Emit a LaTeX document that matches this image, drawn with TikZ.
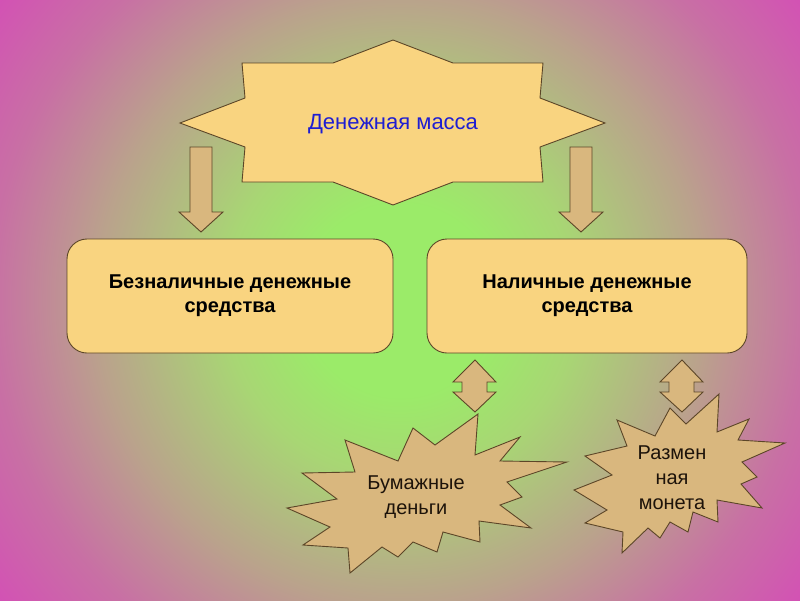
\documentclass[tikz,border=0pt]{standalone}
\usepackage{fontspec}
\setmainfont{Liberation Sans}
\definecolor{glowgreen}{RGB}{155,235,105}
\definecolor{leafgreen}{RGB}{168,214,116}
\definecolor{midtan}{RGB}{186,162,140}
\definecolor{rosepink}{RGB}{200,112,164}
\definecolor{edgemagenta}{RGB}{212,78,182}
\definecolor{starfill}{RGB}{249,212,128}
\definecolor{tanfill}{RGB}{217,183,126}
\definecolor{rimbrown}{RGB}{92,70,40}
\definecolor{titleblue}{RGB}{30,30,210}
\pgfdeclareradialshading{slideglow}{\pgfpoint{0bp}{0bp}}{color(0bp)=(glowgreen); color(6bp)=(glowgreen); color(11bp)=(leafgreen); color(19bp)=(midtan); color(25.5bp)=(rosepink); color(32bp)=(edgemagenta); color(50bp)=(edgemagenta)}

\begin{document}
\begin{tikzpicture}[x=1pt,y=-1pt,
  shapeline/.style={draw=rimbrown,line width=0.9pt,line join=miter},
  boxnode/.style={shapeline,fill=starfill,rounded corners=20pt,minimum height=114pt,
    align=center,font=\bfseries\fontsize{20}{24}\selectfont},
  burstlabel/.style={align=center,text=black!85!brown,font=\fontsize{20}{25}\selectfont}]
  \useasboundingbox (0,0) rectangle (800,600);

  % Background glow
  \begin{scope}
    \clip (0,0) rectangle (800,600);
    \shade[shading=slideglow] (0,-100) rectangle (800,700);
  \end{scope}

  % Star on top
  \draw[shapeline,fill=starfill] (393,40) -- (453,63) -- (543,63) -- (540,98) -- (605,123)
    -- (540,147) -- (543,182) -- (453,182) -- (393,205) -- (333,182) -- (242,182)
    -- (245,147) -- (180,123) -- (245,98) -- (242,63) -- (333,63) -- cycle;
  \node[text=titleblue,font=\fontsize{22}{26}\selectfont] (mass) at (393,124) {Денежная масса};

  % Down arrows
  \draw[shapeline,fill=tanfill] (190,147) -- (212,147) -- (212,212) -- (223,212) -- (201,232)
    -- (179,212) -- (190,212) -- cycle;
  \draw[shapeline,fill=tanfill] (570,147) -- (592,147) -- (592,212) -- (603,212) -- (581,232)
    -- (559,212) -- (570,212) -- cycle;

  % Boxes
  \node[boxnode,minimum width=326pt] (noncash) at (230,296) {Безналичные денежные\\средства};
  \node[boxnode,minimum width=320pt] (cash) at (587,296) {Наличные денежные\\средства};

  % Bursts
  \draw[shapeline,fill=tanfill] (478,414) -- (475,455) -- (520,437) -- (500,461) -- (567,462)
    -- (507,482) -- (522,497) -- (500,505) -- (531,528) -- (479,521) -- (480,542)
    -- (443,532) -- (437,552) -- (413,542) -- (398,557) -- (382,547) -- (350,573)
    -- (348,548) -- (303,545) -- (330,527) -- (287,508) -- (337,499) -- (302,473)
    -- (355,472) -- (345,440) -- (398,461) -- (413,428) -- (435,445) -- cycle;
  \node[burstlabel] (paper) at (416,497) {Бумажные\\деньги};

  \draw[shapeline,fill=tanfill] (719,394) -- (717,432) -- (749,419) -- (738,440) -- (785,443)
    -- (742,462) -- (757,477) -- (741,484) -- (762,508) -- (717,500) -- (718,522)
    -- (693,512) -- (688,532) -- (670,522) -- (660,538) -- (648,528) -- (622,553)
    -- (623,532) -- (585,523) -- (607,510) -- (574,490) -- (612,475) -- (585,456)
    -- (627,446) -- (617,420) -- (655,436) -- (670,408) -- (686,424) -- cycle;
  \node[burstlabel] (coins) at (672,478) {Размен\\ная\\монета};

  % Double arrows
  \draw[shapeline,fill=tanfill] (475,360) -- (496,382) -- (487,382) -- (487,392) -- (496,392)
    -- (475,412) -- (453,392) -- (462,392) -- (462,382) -- (453,382) -- cycle;
  \draw[shapeline,fill=tanfill] (682,360) -- (703,382) -- (694,382) -- (694,392) -- (703,392)
    -- (682,412) -- (660,392) -- (669,392) -- (669,382) -- (660,382) -- cycle;
\end{tikzpicture}
\end{document}
